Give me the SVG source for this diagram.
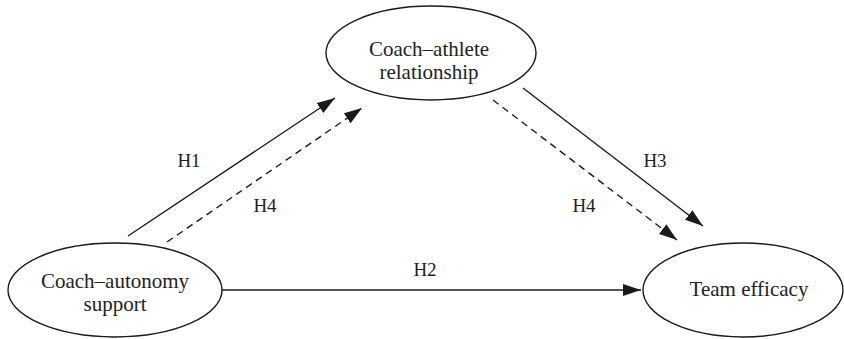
<svg xmlns="http://www.w3.org/2000/svg" width="844" height="339" viewBox="0 0 844 339">
<style>
.node{fill:#fff;stroke:#1a1a1a;stroke-width:1.4}
.t{font-family:"Liberation Serif","Times New Roman",serif;font-size:21px;fill:#222;text-anchor:middle}
.lbl{font-family:"Liberation Serif","Times New Roman",serif;font-size:19px;fill:#222;text-anchor:middle}
.edge{stroke:#1a1a1a;stroke-width:1.4;fill:none}
.dash{stroke-dasharray:7 5}
</style>
<defs>
<marker id="ah" markerUnits="userSpaceOnUse" markerWidth="20" markerHeight="14" refX="18" refY="6" orient="auto">
<path d="M0,0 L18,6 L0,12 z" fill="#1a1a1a"/>
</marker>
</defs>
<g id="connectors">
<line class="edge" x1="128" y1="236" x2="335" y2="98" marker-end="url(#ah)"/>
<line class="edge dash" x1="167" y1="242" x2="362" y2="108" marker-end="url(#ah)"/>
<line class="edge" x1="523" y1="88" x2="703" y2="226" marker-end="url(#ah)"/>
<line class="edge dash" x1="493" y1="100" x2="677" y2="240" marker-end="url(#ah)"/>
<line class="edge" x1="222" y1="290" x2="641" y2="290" marker-end="url(#ah)"/>
<text class="lbl" x="189" y="167">H1</text>
<text class="lbl" x="265" y="212">H4</text>
<text class="lbl" x="655" y="167">H3</text>
<text class="lbl" x="584" y="212">H4</text>
<text class="lbl" x="425" y="276">H2</text>
</g>
<g id="node-relationship">
<ellipse class="node" cx="431" cy="53" rx="105" ry="47"/>
<text class="t" x="429" y="56">Coach–athlete</text>
<text class="t" x="429" y="79">relationship</text>
</g>
<g id="node-autonomy">
<ellipse class="node" cx="115" cy="290" rx="107" ry="47"/>
<text class="t" x="115" y="288">Coach–autonomy</text>
<text class="t" x="115" y="311">support</text>
</g>
<g id="node-efficacy">
<ellipse class="node" cx="743" cy="290" rx="100" ry="47"/>
<text class="t" x="749" y="296">Team efficacy</text>
</g>
</svg>
